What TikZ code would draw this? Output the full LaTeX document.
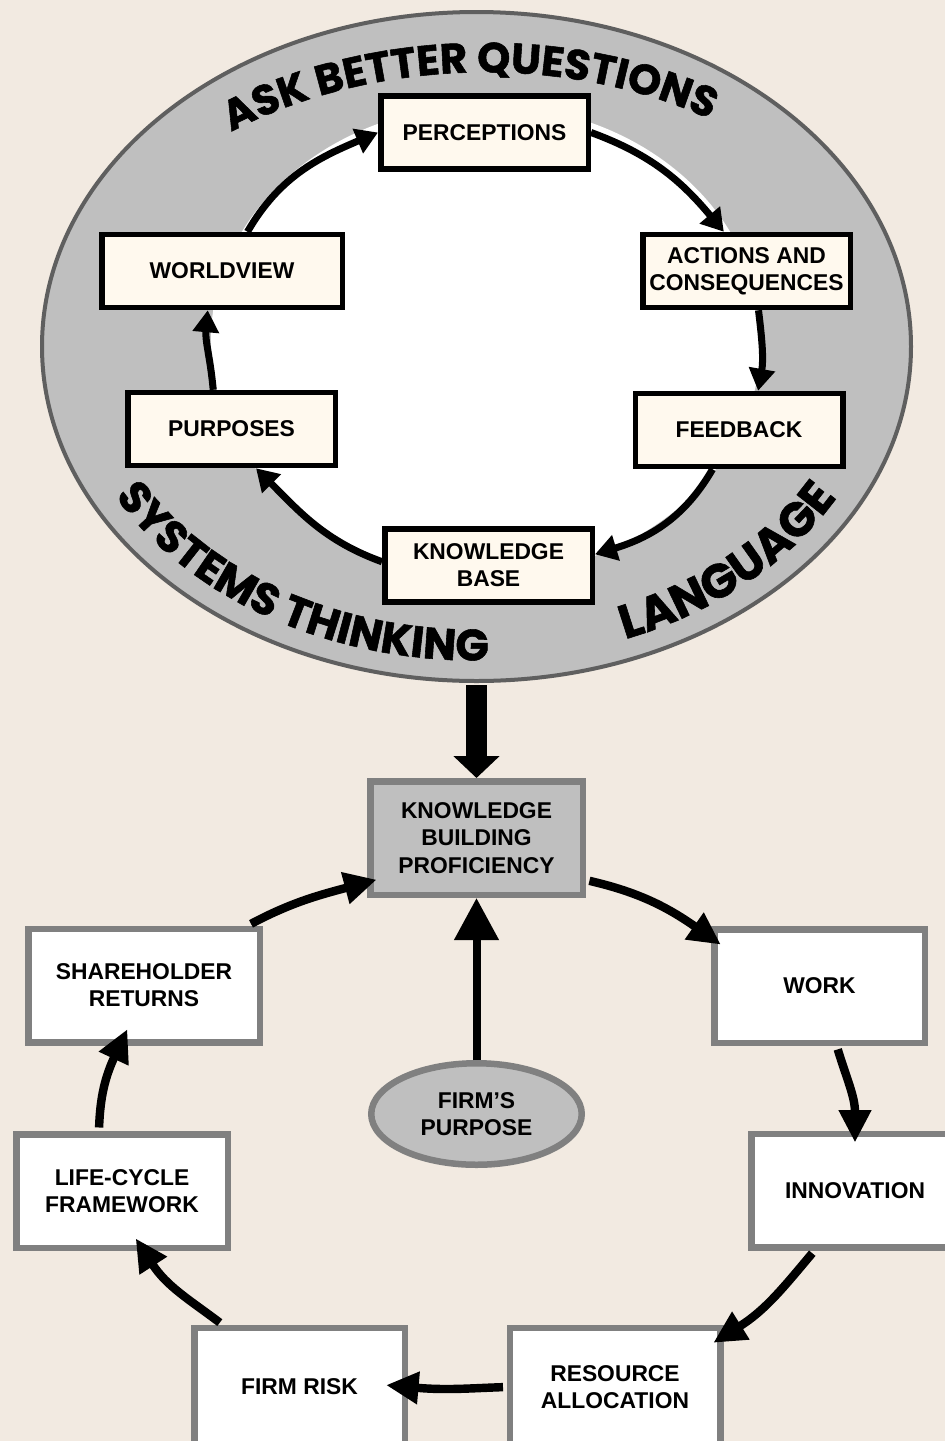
\documentclass[tikz,border=0pt]{standalone}
\usepackage{fontspec}
\setmainfont{Liberation Sans}
\newfontfamily\arcfont{Poppins}[BoldFeatures={FakeBold=1.3}]
\usetikzlibrary{arrows.meta,shapes.geometric,decorations.text}
\newdimen\pxu \pxu=0.02cm
\definecolor{paper}{RGB}{242,234,225}
\definecolor{ringfill}{RGB}{191,191,191}
\definecolor{ringedge}{RGB}{95,95,95}
\definecolor{cream}{RGB}{255,249,238}
\definecolor{boxedge}{RGB}{128,128,128}

\begin{document}
\begin{tikzpicture}[x=0.02cm, y=0.02cm,
  boxfont/.style={font=\bfseries\fontsize{13}{15.5}\selectfont},
  loopbox/.style={boxfont, draw=black, line width=5.5\pxu, fill=cream,
    inner sep=0pt, align=center, minimum width=207.5\pxu, minimum height=73\pxu},
  cyclebox/.style={boxfont, draw=boxedge, line width=6.5\pxu, fill=white,
    inner sep=0pt, align=center, minimum width=210.5\pxu, minimum height=113.5\pxu},
  innerarrow/.style={line width=4pt, -{Triangle[length=12.5pt,width=14.5pt]}},
  outerarrow/.style={line width=4.8pt, -{Triangle[length=18.5pt,width=17.5pt]},
    shorten <=2pt}
]
% page
\useasboundingbox (0,0) rectangle (945,-1441);
\fill[paper] (0,0) rectangle (945,-1441);
\clip (0,0) rectangle (945,-1441);

% grey ring and white centre of the learning loop
\node[ellipse, draw=ringedge, fill=ringfill, line width=4\pxu, inner sep=0pt,
  minimum width=869\pxu, minimum height=669\pxu] (loop) at (476.5,-346.5) {};
\node[ellipse, fill=white, inner sep=0pt,
  minimum width=550\pxu, minimum height=470\pxu] (hub) at (486,-340) {};
\coordinate (oc) at (476.5,-346.5);

% lettering around the ring
\path[rotate around={1.5:(oc)}, decorate, decoration={text along path, text align=center,
    text={|\arcfont\bfseries\fontsize{24}{24}\selectfont|ASK BETTER QUESTIONS}}]
  (oc) ++(155:8.1cm and 5.48cm)
  arc[start angle=155, end angle=25, x radius=8.1cm, y radius=5.48cm];
\path[decorate, decoration={text along path, text align=center,
    text={|\arcfont\bfseries\fontsize{25}{25}\selectfont|SYSTEMS THINKING}}]
  (oc) ++(197.5:8.22cm and 6.28cm)
  arc[start angle=197.5, end angle=280.5, x radius=8.22cm, y radius=6.28cm];
\path[decorate, decoration={text along path, text align=center,
    text={|\arcfont\bfseries\fontsize{27}{27}\selectfont|LANGUAGE}}]
  (oc) ++(284:8.22cm and 6.28cm)
  arc[start angle=284, end angle=340, x radius=8.22cm, y radius=6.28cm];

% loop stages
\node[loopbox] (perc) at (484.5,-132.5) {PERCEPTIONS};
\node[loopbox] (act) at (746.5,-271) {ACTIONS AND\\CONSEQUENCES};
\node[loopbox] (feed) at (739,-430) {FEEDBACK};
\node[loopbox] (kb) at (488.5,-565.5) {KNOWLEDGE\\BASE};
\node[loopbox] (purp) at (231.5,-429) {PURPOSES};
\node[loopbox, minimum width=240.5\pxu] (wv) at (222,-271) {WORLDVIEW};

\draw[innerarrow] (wv.57) to[out=60,in=203] (perc.west);
\draw[innerarrow] (perc.east) to[out=-20,in=130] (act.120);
\draw[innerarrow] (act.-73) to[out=-83,in=80] (feed.64);
\draw[innerarrow] (feed.236) to[out=240,in=17] (kb.6);
\draw[innerarrow] (kb.178) to[out=160,in=315] (purp.302);
\draw[innerarrow] (purp.115) to[out=95,in=265] (wv.250);

% firm cycle
\node[cyclebox, fill=ringfill, minimum width=212.5\pxu] (kbp) at (476.5,-838)
  {KNOWLEDGE\\BUILDING\\PROFICIENCY};
\node[cyclebox] (work) at (819.5,-986) {WORK};
\node[cyclebox, minimum width=207.5\pxu] (innov) at (855,-1190.5) {INNOVATION};
\node[cyclebox, minimum height=118\pxu] (res) at (615,-1387) {RESOURCE\\ALLOCATION};
\node[cyclebox, minimum height=118\pxu] (risk) at (299.5,-1387) {FIRM RISK};
\node[cyclebox, minimum width=211.5\pxu] (life) at (122,-1191) {LIFE-CYCLE\\FRAMEWORK};
\node[cyclebox, minimum width=231.5\pxu] (share) at (144,-985.5) {SHAREHOLDER\\RETURNS};
\node[ellipse, boxfont, draw=boxedge, line width=6.5\pxu, fill=ringfill,
  inner sep=0pt, align=center, minimum width=210.5\pxu, minimum height=101.5\pxu]
  (firm) at (476.5,-1114) {FIRM’S\\PURPOSE};

\draw[line width=12.5pt, -{Triangle[length=12.5pt,width=25.6pt]}, shorten <=2\pxu]
  (loop.south) -- (kbp.north);
\draw[line width=4.55pt, -{Triangle[length=24pt,width=24.5pt]}]
  (firm.north) -- (kbp.south);

\draw[outerarrow, shorten >=-10\pxu] (share.30) to[out=28,in=195] (kbp.202);
\draw[outerarrow, shorten >=-12\pxu] (kbp.-21) to[out=-13,in=145] (work.156);
\draw[outerarrow, shorten >=-12\pxu] (work.-74) to[out=-73,in=90] (innov.north);
\draw[outerarrow, shorten >=-12\pxu] (innov.236) to[out=230,in=32] (res.25);
\draw[outerarrow, shorten >=-22\pxu] (res.west) to[out=182,in=-5] (risk.east);
\draw[outerarrow, shorten >=-15\pxu] (risk.141) to[out=143,in=303] (life.-70);
\draw[outerarrow, shorten >=-18\pxu] (life.111.5) to[out=88,in=245] (share.248);
\end{tikzpicture}
\end{document}
